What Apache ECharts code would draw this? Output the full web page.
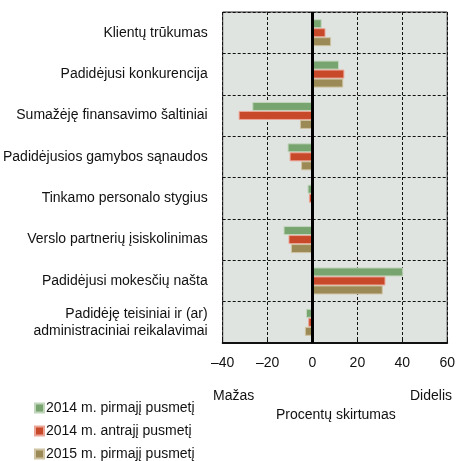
<!DOCTYPE html>
<html>
<head>
<meta charset="utf-8">
<script src="https://cdn.jsdelivr.net/npm/echarts@6/dist/echarts.min.js"></script>
<style>
  html, body { margin: 0; padding: 0; background: #fff; }
  #chart { width: 458px; height: 461px; }
</style>
</head>
<body>
<div id="chart"></div>
<script>
// kategorijos (iš viršaus į apačią)
var categories = [
  'Klientų trūkumas',
  'Padidėjusi konkurencija',
  'Sumažėję finansavimo šaltiniai',
  'Padidėjusios gamybos sąnaudos',
  'Tinkamo personalo stygius',
  'Verslo partnerių įsiskolinimas',
  'Padidėjusi mokesčių našta',
  'Padidėję teisiniai ir (ar)\nadministraciniai reikalavimai'
]
var seriesNames = ['2014 m. pirmajį pusmetį', '2014 m. antrajį pusmetį', '2015 m. pirmajį pusmetį']
var h1_2014 = [4.1, 11.8, -26.8, -11.1, -2.2, -12.9, 40.4, -2.9]
var h2_2014 = [5.8, 14.2, -32.9, -10.2, -1.6, -10.7, 32.5, -1.9]
var h1_2015 = [8.3, 13.7, -5.6, -5.1, 0.7, -9.6, 31.3, -3.4]
var xTicks = [-40, -20, 0, 20, 40, 60]

var colors = ['#78a46f', '#c8482a', '#9c8a56']
var borders = ['#c2d6bd', '#eba596', '#cfc3a3']
var font = 'Liberation Sans, Arial, sans-serif'

var chart = echarts.init(document.getElementById('chart'))

function barSeries(i, data) {
  return {
    name: seriesNames[i],
    type: 'bar',
    data: data,
    barWidth: 9,
    barGap: '0%',
    itemStyle: {
      color: colors[i],
      borderColor: borders[i],
      borderWidth: 1
    },
    animation: false
  }
}

var series = [barSeries(0, h1_2014), barSeries(1, h2_2014), barSeries(2, h1_2015)]
// nulinė linija
series[2].markLine = {
  silent: true,
  symbol: 'none',
  label: { show: false },
  lineStyle: { color: '#000', width: 3, type: 'solid' },
  data: [{ xAxis: 0 }]
}

chart.setOption({
  textStyle: { fontFamily: font },
  grid: {
    left: 222,
    right: 8,
    top: 12,
    bottom: 118,
    show: true,
    backgroundColor: '#e0e4e0',
    borderColor: '#222',
    borderWidth: 1
  },
  legend: {
    orient: 'vertical',
    left: 34,
    top: 401,
    height: 80,
    padding: 0,
    itemWidth: 9,
    itemHeight: 9,
    itemGap: 9,
    icon: 'rect',
    data: seriesNames,
    textStyle: { fontSize: 14, color: '#111', padding: [0, 0, 0, -3] }
  },
  xAxis: {
    type: 'value',
    min: xTicks[0],
    max: xTicks[xTicks.length - 1],
    interval: 20,
    axisLine: { show: true, onZero: false, lineStyle: { color: '#111', width: 2 } },
    axisTick: { show: true, inside: true, length: 5, lineStyle: { color: '#111' } },
    axisLabel: {
      color: '#111',
      fontSize: 14,
      margin: 13,
      formatter: function (v) { return String(v).replace('-', '–') }
    },
    splitLine: { show: true, lineStyle: { color: '#111', type: [3, 2], width: 1 } }
  },
  yAxis: {
    type: 'category',
    data: categories,
    inverse: true,
    axisLine: { show: false },
    axisTick: { show: false },
    axisLabel: {
      color: '#111',
      fontSize: 14,
      margin: 15,
      align: 'right',
      lineHeight: 17,
      interval: 0
    },
    splitLine: { show: true, interval: 0, lineStyle: { color: '#111', type: [3, 2], width: 1 } }
  },
  graphic: [
    { type: 'text', left: 213, top: 389, style: { text: 'Mažas', fontSize: 14, fill: '#111', fontFamily: font } },
    { type: 'text', right: 6, top: 389, style: { text: 'Didelis', fontSize: 14, fill: '#111', fontFamily: font } },
    { type: 'text', left: 276, top: 408, style: { text: 'Procentų skirtumas', fontSize: 14, fill: '#111', fontFamily: font } }
  ],
  series: series
})
</script>
</body>
</html>
